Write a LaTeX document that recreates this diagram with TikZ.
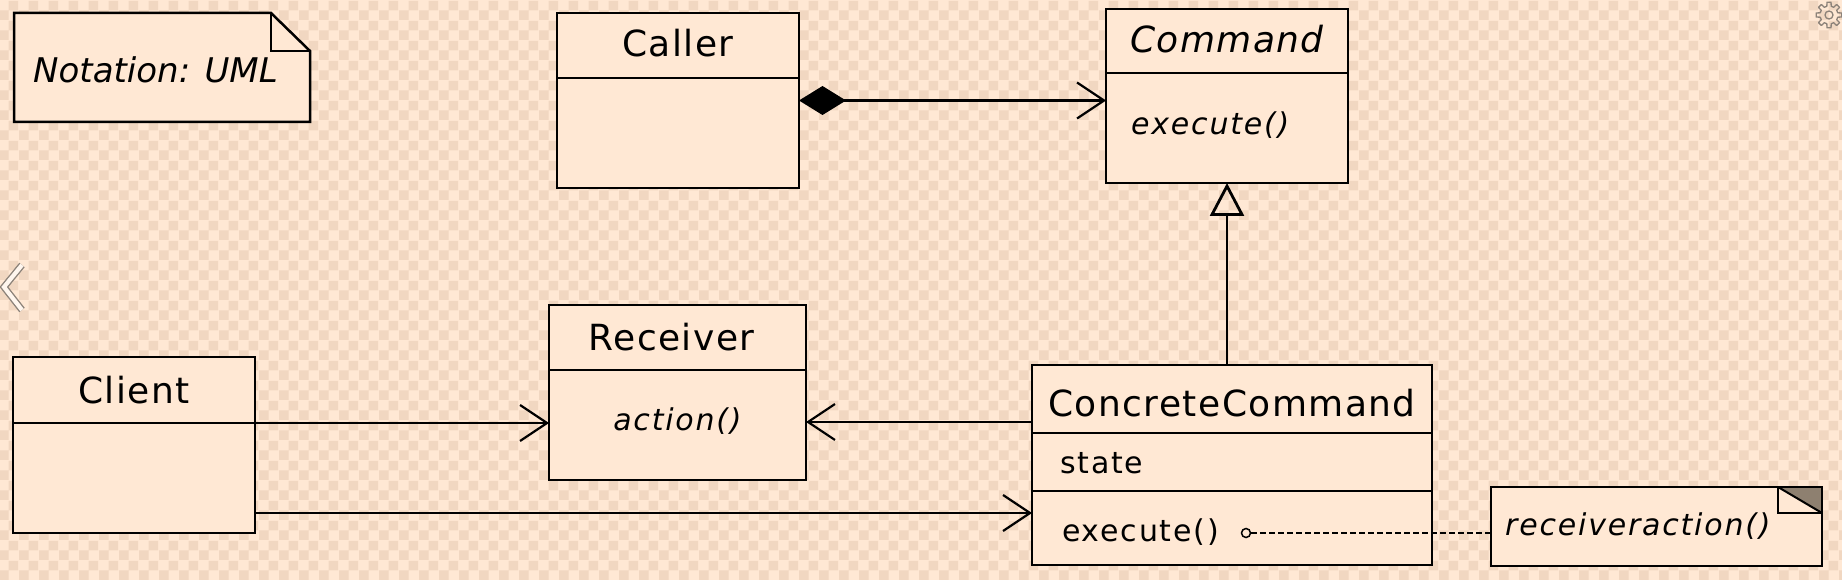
\documentclass[tikz,border=0pt]{standalone}
\usepackage{fontspec}
\setmainfont{DejaVu Sans}
\usetikzlibrary{arrows.meta,patterns}
\definecolor{peach}{HTML}{FFE8D4}
\definecolor{peachdark}{HTML}{F1D7C1}
\definecolor{foldgray}{HTML}{8E8070}
\definecolor{uigray}{HTML}{8C8279}
\pgfdeclarepatternformonly{bigchecker}{\pgfpointorigin}{\pgfqpoint{20pt}{20pt}}{\pgfqpoint{20pt}{20pt}}{%
  \pgfpathrectangle{\pgfpointorigin}{\pgfqpoint{10pt}{10pt}}%
  \pgfpathrectangle{\pgfqpoint{10pt}{10pt}}{\pgfqpoint{10pt}{10pt}}%
  \pgfusepath{fill}}
\begin{document}
\begin{tikzpicture}[x=1pt,y=-1pt,
  box/.style={draw=black, fill=peach, line width=2.5pt, anchor=north west, inner sep=0pt, outer sep=0pt},
  divl/.style={line width=2.8pt},
  cname/.style={font=\fontsize{36}{40}\selectfont\addfontfeature{LetterSpace=4}, inner sep=0pt, anchor=base},
  itcname/.style={font=\fontsize{36}{40}\selectfont\itshape\addfontfeature{LetterSpace=4}, inner sep=0pt, anchor=base},
  optext/.style={font=\fontsize{30}{34}\selectfont\addfontfeature{LetterSpace=6}, inner sep=0pt, anchor=base west},
  itoptext/.style={font=\fontsize{30}{34}\selectfont\itshape\addfontfeature{LetterSpace=6}, inner sep=0pt, anchor=base west},
  conn/.style={line width=2.2pt},
  openarr/.style={conn, -{Straight Barb[length=27pt,width=36pt]}},
  notebox/.style={draw=black, fill=peach, line width=2.5pt}
]
\fill[peach] (0,0) rectangle (1842,580);
\fill[pattern=bigchecker, pattern color=peachdark] (0,0) rectangle (1842,580);
\useasboundingbox (0,0) rectangle (1842,580);

% Notation note
\draw[notebox, line join=miter] (14,13) -- (271,13) -- (310,51) -- (310,122) -- (14,122) -- cycle;
\draw[line width=2.5pt] (271,13) -- (271,51) -- (310,51);
\node[font=\fontsize{34}{38}\selectfont\itshape, inner sep=0pt, anchor=base west] (notation) at (33,83) {Notation: UML};

% Caller
\node[box, minimum width=242pt, minimum height=175pt] (caller) at (557,13) {};
\draw[divl] (caller.west |- 0,78) -- (caller.east |- 0,78);
\node[cname] (callert) at (caller.north |- 0,57) {Caller};

% Command
\node[box, minimum width=242pt, minimum height=174pt] (command) at (1106,9) {};
\draw[divl] (command.west |- 0,73) -- (command.east |- 0,73);
\node[itcname] (commandt) at (command.north |- 0,53) {Command};
\node[itoptext] (commandop) at (1131,135) {execute()};

% Client
\node[box, minimum width=242pt, minimum height=176pt] (client) at (13,357) {};
\coordinate (clientdiv) at (13,423);
\draw[divl] (clientdiv -| client.west) -- (clientdiv -| client.east);
\node[cname] (clientt) at (client.north |- 0,403) {Client};

% Receiver
\node[box, minimum width=257pt, minimum height=175pt] (receiver) at (549,305) {};
\draw[divl] (receiver.west |- 0,370) -- (receiver.east |- 0,370);
\node[cname] (receivert) at ([xshift=-6pt]receiver.north |- 0,350) {Receiver};
\node[itoptext, anchor=base] (receiverop) at (receiver.north |- 0,430) {action()};

% ConcreteCommand
\node[box, minimum width=400pt, minimum height=200pt] (concrete) at (1032,365) {};
\draw[divl] (concrete.west |- 0,433) -- (concrete.east |- 0,433);
\draw[divl] (concrete.west |- 0,491) -- (concrete.east |- 0,491);
\node[cname] (concretet) at (concrete.north |- 0,416) {ConcreteCommand};
\node[optext] (concretest) at (1060,473) {state};
\node[optext] (concreteop) at (1062,541) {execute()};

% receiver action note
\node[box, minimum width=331pt, minimum height=79pt] (rnote) at (1491,487) {};
\fill[foldgray] (1778,487) -- (1822,487) -- (1822,513) -- cycle;
\draw[line width=2.5pt, line join=miter] (1778,487) -- (1778,513) -- (1822,513);
\draw[line width=2pt] (1778,487) -- (1822,513);
\draw[line width=2.5pt] (rnote.north west) rectangle (rnote.south east);
\node[itoptext] (rnotet) at (1505,535) {receiveraction()};

% connectors
\draw[conn, {Diamond[length=47pt,width=29pt,fill=black]}-{Straight Barb[length=27pt,width=36pt]}]
  (caller.east) -- (caller.east -| command.west);
\draw[conn, -{Triangle[open,length=33pt,width=34pt,line width=2.8pt]}]
  (concrete.north -| command.south) -- (command.south);
\draw[openarr] (clientdiv -| client.east) -- (clientdiv -| receiver.west);
\coordinate (clientlow) at ([yshift=-68pt]client.east);
\draw[openarr] (clientlow) -- (clientlow -| concrete.west);
\coordinate (crlevel) at (1032,422);
\draw[openarr] (crlevel -| concrete.west) -- (crlevel -| receiver.east);

\node[circle, draw, line width=1.5pt, minimum size=9pt, inner sep=0pt, fill=peach] (opc) at (1246,533) {};
\draw[line width=2.2pt, dash pattern=on 6pt off 3pt] (opc.east) -- (opc -| rnote.west);

% viewer UI icons
\draw[uigray, line width=1.3pt, line join=round, shift={(1829,15)}]
  (-14:9) \foreach \a in {0,45,...,315}{ -- (\a-14:9) -- (\a-9:13) -- (\a+9:13) -- (\a+14:9) } -- cycle;
\draw[uigray, line width=1.3pt] (1829,15) circle (4);
\draw[uigray, line width=7pt, line join=miter] (22,265) -- (4,287) -- (22,310);
\draw[white!60!peach, line width=4.2pt, line join=miter] (22,265) -- (4,287) -- (22,310);
\end{tikzpicture}
\end{document}
